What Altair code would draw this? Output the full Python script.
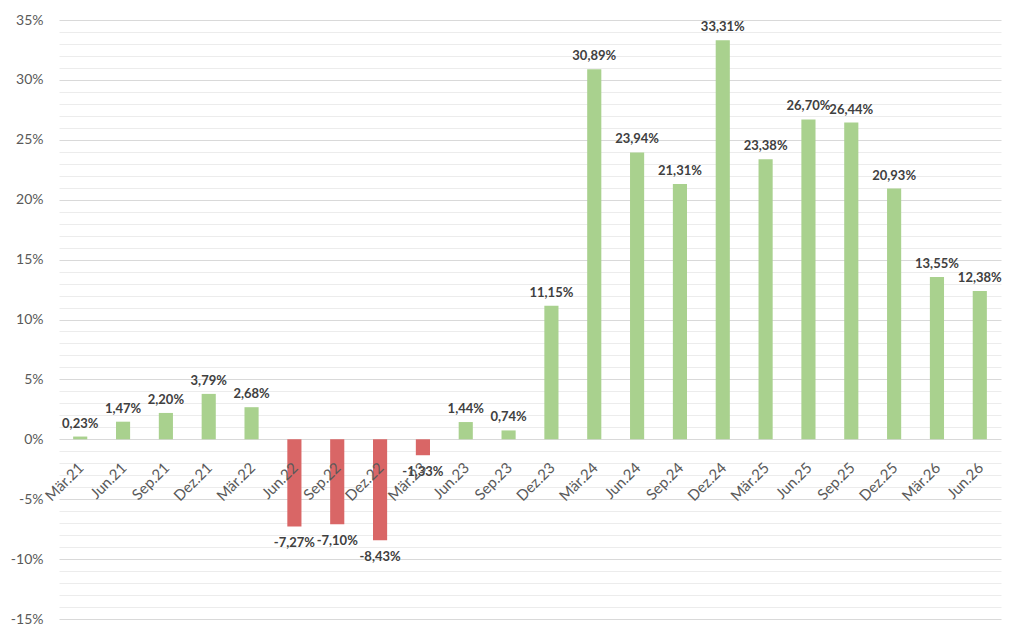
import altair as alt
import pandas as pd

quarters = ["Mär.21", "Jun.21", "Sep.21", "Dez.21", "Mär.22", "Jun.22", "Sep.22", "Dez.22",
            "Mär.23", "Jun.23", "Sep.23", "Dez.23", "Mär.24", "Jun.24", "Sep.24", "Dez.24",
            "Mär.25", "Jun.25", "Sep.25", "Dez.25", "Mär.26", "Jun.26"]
values = [0.23, 1.47, 2.20, 3.79, 2.68, -7.27, -7.10, -8.43,
          -1.33, 1.44, 0.74, 11.15, 30.89, 23.94, 21.31, 33.31,
          23.38, 26.70, 26.44, 20.93, 13.55, 12.38]

df = pd.DataFrame({"q": quarters, "v": values})
df["label"] = [f"{v:.2f}%".replace(".", ",") for v in values]

FONT = "Lato"
GREEN = "#A9D18E"
RED = "#D96666"

x = alt.X("q:N", sort=quarters, axis=None,
          scale=alt.Scale(paddingInner=0.67, paddingOuter=0.33))
y_axis = alt.Axis(
    values=list(range(-15, 36)),
    tickCount=100,
    labelExpr="datum.value % 5 === 0 ? datum.value + '%' : ''",
    gridColor=alt.condition("datum.value % 5 === 0", alt.value("#d9d9d9"), alt.value("#ececec")),
    gridOpacity=1,
    labelOverlap=False,
    ticks=False, domain=False, title=None,
    labelFont=FONT, labelFontSize=14, labelColor="#595959", labelPadding=16,
)
y = alt.Y("v:Q", scale=alt.Scale(domain=[-15, 35], nice=False, zero=True), axis=y_axis)

base = alt.Chart(df)

bars = base.mark_bar().encode(
    x=x, y=y,
    color=alt.condition("datum.v < 0", alt.value(RED), alt.value(GREEN)),
)

pos_labels = base.transform_filter("datum.v >= 0").mark_text(
    baseline="alphabetic", dy=-9, font=FONT, fontWeight="bold", fontSize=13, color="#404040"
).encode(x=x, y="v:Q", text="label:N")

neg_labels = base.transform_filter("datum.v < 0").mark_text(
    baseline="top", dy=11, font=FONT, fontWeight="bold", fontSize=13, color="#404040"
).encode(x=x, y="v:Q", text="label:N")

cat_labels = base.mark_text(
    angle=315, align="right", baseline="middle", font=FONT, fontSize=15,
    color="#595959", xOffset=1, yOffset=26
).encode(x=x, y=alt.datum(0), text="q:N")

chart = alt.layer(bars, pos_labels, neg_labels, cat_labels).properties(
    width=942, height=599,
    padding={"left": 51, "top": 12, "right": 15, "bottom": 14},
    autosize=alt.AutoSizeParams(type="none"),
    background="white",
).configure_view(stroke=None)

chart.save("out.html", embed_options={"renderer": "svg", "actions": False})
